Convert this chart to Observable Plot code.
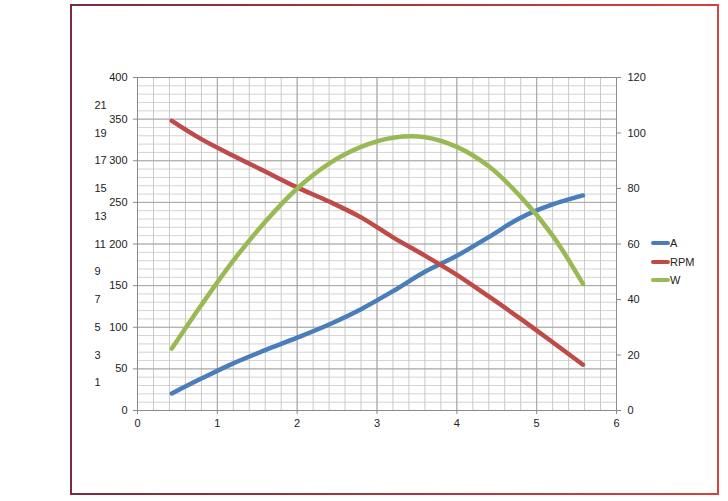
<!DOCTYPE html>
<html>
<head>
<meta charset="utf-8">
<script src="https://cdn.jsdelivr.net/npm/d3@7"></script>
<script src="https://cdn.jsdelivr.net/npm/@observablehq/plot@0.6"></script>
<style>
  html, body { margin: 0; padding: 0; background: #fff; }
  #chart { position: relative; width: 728px; height: 501px; font-family: "Liberation Sans", Arial, sans-serif; }
  #chart svg { position: absolute; left: 0; top: 0; }
  #border {
    position: absolute; left: 70px; top: 4px; width: 649px; height: 491px; box-sizing: border-box;
    border: 2px solid; border-image: linear-gradient(to right, #7a2c3e, #d6423e) 1;
  }
  .key { position: absolute; left: 651px; height: 12px; font-size: 11px; color: #222; line-height: 12px; }
  .key i { display: inline-block; width: 19px; height: 4px; border-radius: 2px; vertical-align: middle; margin-top: -2px; }
</style>
</head>
<body>
<div id="chart"><div id="border"></div></div>
<script>
// Motor characteristic curves: current, speed and power against load
const load  = [0.43, 0.8, 1.2, 1.6, 2.0, 2.4, 2.8, 3.2, 3.6, 4.0, 4.4, 4.8, 5.2, 5.58];
const amps  = [0.23, 1.3, 2.4, 3.35, 4.25, 5.2, 6.3, 7.6, 9.0, 10.15, 11.5, 12.9, 13.85, 14.5];
const rpm   = [348, 326, 306, 287, 268, 251, 232, 208, 186, 163, 137, 110, 82, 55];
const watts = [22.3, 38, 54, 68, 80, 89, 95, 98.3, 98.5, 95, 88, 77, 63, 45.6];

const xTicks   = [0, 1, 2, 3, 4, 5, 6];
const rpmTicks = [0, 50, 100, 150, 200, 250, 300, 350, 400];
const ampTicks = [1, 3, 5, 7, 9, 11, 13, 15, 17, 19, 21];
const wTicks   = [0, 20, 40, 60, 80, 100, 120];

const seriesNames  = ["A", "RPM", "W"];
const seriesColors = ["#4a7ebb", "#be4b48", "#98b954"];

const rows = load.map((x, i) => ({x, a: amps[i], rpm: rpm[i], w: watts[i]}));

const minorX = d3.range(0, 6.001, 0.2);
const minorY = d3.range(0, 400.001, 10);

const frame = {
  width: 728, height: 501,
  marginLeft: 137, marginRight: 112, marginTop: 77, marginBottom: 91,
  style: {background: "transparent", fontFamily: "Liberation Sans, Arial, sans-serif", fontSize: "11px", color: "#222"}
};
const xScale = {domain: [0, 6], label: null, axis: null};

// grid, bottom axis and speed axis
const base = Plot.plot({
  ...frame, x: xScale, y: {domain: [0, 400], label: null, axis: null},
  marks: [
    Plot.ruleY(minorY, {stroke: "#d4d4d4"}),
    Plot.ruleX(minorX, {stroke: "#c8c8c8"}),
    Plot.ruleY(rpmTicks, {stroke: "#a6a6a6"}),
    Plot.ruleX(xTicks, {stroke: "#a6a6a6"}),
    Plot.frame({stroke: "#8a8a8a"}),
    Plot.axisX(xTicks, {tickSize: 4, tickPadding: 5, stroke: "#8a8a8a", fill: "#222", tickFormat: d => d, label: null}),
    Plot.axisY(rpmTicks, {anchor: "left", tickSize: 4, tickPadding: 6, stroke: "#8a8a8a", fill: "#222", tickFormat: d => d, label: null})
  ]
});

// current, with its own labels further left
const ampPlot = Plot.plot({
  ...frame, x: xScale, y: {domain: [-1, 23], label: null, axis: null},
  marks: [
    Plot.axisY(ampTicks, {anchor: "left", tickSize: 0, tickPadding: 43, textAnchor: "start", fill: "#222", tickFormat: d => d, label: null}),
    Plot.line(rows, {x: "x", y: "a", stroke: seriesColors[0], strokeWidth: 4.5, curve: "catmull-rom"})
  ]
});

// speed
const rpmPlot = Plot.plot({
  ...frame, x: xScale, y: {domain: [0, 400], label: null, axis: null},
  marks: [
    Plot.line(rows, {x: "x", y: "rpm", stroke: seriesColors[1], strokeWidth: 4.5, curve: "catmull-rom"})
  ]
});

// power, right axis
const wPlot = Plot.plot({
  ...frame, x: xScale, y: {domain: [0, 120], label: null, axis: null},
  marks: [
    Plot.axisY(wTicks, {anchor: "right", tickSize: 4, tickPadding: 7, stroke: "#8a8a8a", fill: "#222", tickFormat: d => d, label: null}),
    Plot.line(rows, {x: "x", y: "w", stroke: seriesColors[2], strokeWidth: 4.5, curve: "catmull-rom"})
  ]
});

const chart = document.getElementById("chart");
[base, ampPlot, rpmPlot, wPlot].forEach(p => chart.appendChild(p));

// legend
const keyTops = [237, 256, 274];
seriesNames.forEach((name, i) => {
  const k = document.createElement("div");
  k.className = "key";
  k.style.top = keyTops[i] + "px";
  k.innerHTML = `<i style="background:${seriesColors[i]}"></i>${name}`;
  chart.appendChild(k);
});
</script>
</body>
</html>
